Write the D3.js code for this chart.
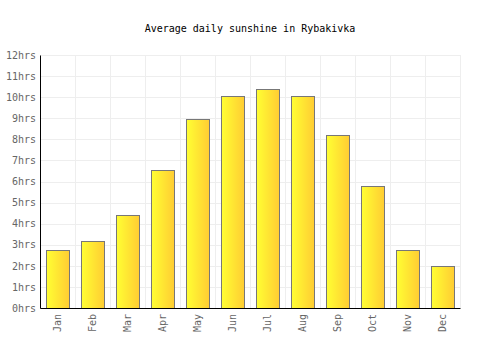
<!DOCTYPE html>
<html><head><meta charset="utf-8">
<script src="https://cdn.jsdelivr.net/npm/d3@7"></script>
<style>body{margin:0;background:#fff}svg{display:block}</style>
</head><body>
<script>
const months = ["Jan","Feb","Mar","Apr","May","Jun","Jul","Aug","Sep","Oct","Nov","Dec"];
const sunshine = [2.75,3.2,4.4,6.55,8.95,10.05,10.4,10.05,8.2,5.8,2.75,2.0];
const yTicks = [0,1,2,3,4,5,6,7,8,9,10,11,12];
const title = "Average daily sunshine in Rybakivka";

const W=500,H=350,m={l:40,r:40,t:55,b:42};
const svg=d3.select("body").append("svg").attr("width",W).attr("height",H);
const defs=svg.append("defs");
const g=defs.append("linearGradient").attr("id","bg").attr("x1","0").attr("x2","1").attr("y1","0").attr("y2","0");
g.append("stop").attr("offset","0%").attr("stop-color","#ffff33");
g.append("stop").attr("offset","100%").attr("stop-color","#ffcc33");

const x=d3.scaleBand().domain(months).range([m.l,W-m.r]).paddingInner(0.34).paddingOuter(0.17);
const xb=d3.scaleBand().domain(months).range([m.l,W-m.r]);
const y=d3.scaleLinear().domain([0,12]).range([H-m.b,m.t]);

svg.append("text").attr("x",W/2).attr("y",32).attr("text-anchor","middle")
  .attr("font-family","DejaVu Sans Mono").attr("font-size",10).attr("fill","#000").text(title);

// grid
svg.append("g").selectAll("line").data(yTicks).join("line")
  .attr("x1",m.l).attr("x2",W-m.r).attr("y1",d=>Math.round(y(d))+0.5).attr("y2",d=>Math.round(y(d))+0.5)
  .attr("stroke","#eeeeee");
svg.append("g").selectAll("line").data(months.slice(1).concat(["end"])).join("line")
  .attr("x1",(d,i)=>Math.round(m.l+xb.step()*(i+1))+0.5).attr("x2",(d,i)=>Math.round(m.l+xb.step()*(i+1))+0.5)
  .attr("y1",m.t).attr("y2",H-m.b).attr("stroke","#eeeeee");

// bars
svg.append("g").selectAll("rect").data(sunshine).join("rect")
  .attr("x",(d,i)=>Math.round(x(months[i]))+0.5).attr("width",Math.round(x.bandwidth()))
  .attr("y",d=>Math.round(y(d))+0.5).attr("height",d=>Math.round(y(0))-Math.round(y(d)))
  .attr("fill","url(#bg)").attr("stroke","#777777").attr("stroke-width",1);

// axes
const ya=svg.append("g").attr("transform",`translate(${m.l},0)`)
  .call(d3.axisLeft(y).tickValues(yTicks).tickFormat(d=>d+"hrs").tickSize(0).tickPadding(4));
ya.select(".domain").attr("stroke","#000").attr("stroke-width",1);
ya.selectAll("text").attr("font-family","DejaVu Sans Mono").attr("font-size",10).attr("fill","#666");

const xa=svg.append("g").attr("transform",`translate(0,${H-m.b})`)
  .call(d3.axisBottom(xb).tickSize(0).tickPadding(0));
xa.select(".domain").attr("stroke","#000").attr("stroke-width",1);
xa.selectAll("text").attr("font-family","DejaVu Sans Mono").attr("font-size",10).attr("fill","#666")
  .attr("text-anchor","end").attr("dy","0.35em").attr("transform","translate(0,6) rotate(-90)");
</script>
</body></html>
